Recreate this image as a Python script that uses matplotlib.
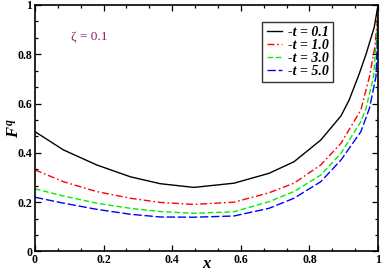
import matplotlib
matplotlib.use('Agg')
import matplotlib.pyplot as plt
from matplotlib.ticker import MultipleLocator

# values (each curve has its own x readings)
x_t01 = [0.0, 0.083, 0.18, 0.278, 0.365, 0.463, 0.58, 0.682, 0.755, 0.833, 0.892, 0.916, 0.945, 0.965, 0.989, 1.0]
f_t01 = [0.486, 0.412, 0.351, 0.303, 0.275, 0.26, 0.277, 0.317, 0.364, 0.452, 0.55, 0.615, 0.72, 0.80, 0.91, 1.0]
x_t10 = [0.0, 0.083, 0.18, 0.278, 0.365, 0.463, 0.58, 0.682, 0.755, 0.833, 0.892, 0.95, 0.975, 0.991, 1.0]
f_t10 = [0.331, 0.283, 0.243, 0.216, 0.199, 0.191, 0.2, 0.238, 0.277, 0.351, 0.439, 0.574, 0.709, 0.831, 0.97]
x_t30 = [0.0, 0.083, 0.18, 0.278, 0.365, 0.463, 0.58, 0.682, 0.755, 0.833, 0.892, 0.95, 0.965, 0.987, 1.0]
f_t30 = [0.254, 0.225, 0.196, 0.175, 0.162, 0.155, 0.161, 0.202, 0.243, 0.31, 0.398, 0.527, 0.581, 0.709, 0.95]
x_t50 = [0.0, 0.083, 0.18, 0.278, 0.365, 0.463, 0.58, 0.682, 0.755, 0.833, 0.892, 0.95, 0.975, 0.994, 1.0]
f_t50 = [0.22, 0.196, 0.171, 0.151, 0.14, 0.139, 0.144, 0.175, 0.216, 0.283, 0.371, 0.486, 0.581, 0.709, 0.93]
labels = ['-t = 0.1', '-t = 1.0', '-t = 3.0', '-t = 5.0']
tick_vals = [0, 0.2, 0.4, 0.6, 0.8, 1.0]
tick_text = ['0', '0.2', '0.4', '0.6', '0.8', '1']
zeta_text = '\u03b6 = 0.1'

plt.rcParams['font.family'] = ['Liberation Serif', 'DejaVu Serif']
plt.rcParams['mathtext.fontset'] = 'custom'
plt.rcParams['mathtext.it'] = 'Liberation Serif:italic:bold'
plt.rcParams['mathtext.rm'] = 'Liberation Serif:bold'

fig = plt.figure(figsize=(3.82, 2.73), dpi=100)
ax = fig.add_axes([0.0916, 0.0788, 0.898, 0.903])

styles = [
    dict(color='black', linestyle='-'),
    dict(color='red', linestyle=(0, (5, 2, 1.2, 2))),
    dict(color='#00ee00', linestyle=(0, (4, 2))),
    dict(color='blue', linestyle=(0, (6, 2))),
]
series = [(x_t01, f_t01), (x_t10, f_t10), (x_t30, f_t30), (x_t50, f_t50)]
for (xs, ys), lab, st in zip(series, labels, styles):
    ax.plot(xs, ys, linewidth=1.0, label=lab, **st)

ax.set_xlim(0, 1)
ax.set_ylim(0, 1)
ax.set_xticks(tick_vals)
ax.set_xticklabels(tick_text)
ax.set_yticks(tick_vals)
ax.set_yticklabels(tick_text)
ax.xaxis.set_minor_locator(MultipleLocator(0.2 / 3))
ax.yaxis.set_minor_locator(MultipleLocator(0.2 / 3))
ax.tick_params(which='both', direction='in', top=True, right=True,
               labelsize=8.5, width=0.9, pad=2)
ax.tick_params(which='major', length=4)
ax.tick_params(which='minor', length=2.5)
for lbl in ax.get_xticklabels() + ax.get_yticklabels():
    lbl.set_fontweight('bold')
for sp in ax.spines.values():
    sp.set_linewidth(1.2)

ax.set_xlabel('x', fontsize=12, fontweight='bold', fontstyle='italic')
ax.xaxis.set_label_coords(0.5, -0.02)
ax.set_ylabel('$F^q$', fontsize=12)
ax.yaxis.set_label_coords(-0.036, 0.5)

ax.text(0.105, 0.87, zeta_text, color='#8b1c62', fontsize=9.5, va='center')

leg = ax.legend(loc='upper right', bbox_to_anchor=(0.869, 0.931), frameon=True,
                fancybox=False, edgecolor='black', handlelength=1.15,
                handletextpad=0.4, borderpad=0.3, borderaxespad=0,
                labelspacing=0.0,
                prop=dict(family='Liberation Serif', weight='bold',
                          style='italic', size=10))
leg.get_frame().set_linewidth(1.0)

fig.savefig('out.png', dpi=100)
